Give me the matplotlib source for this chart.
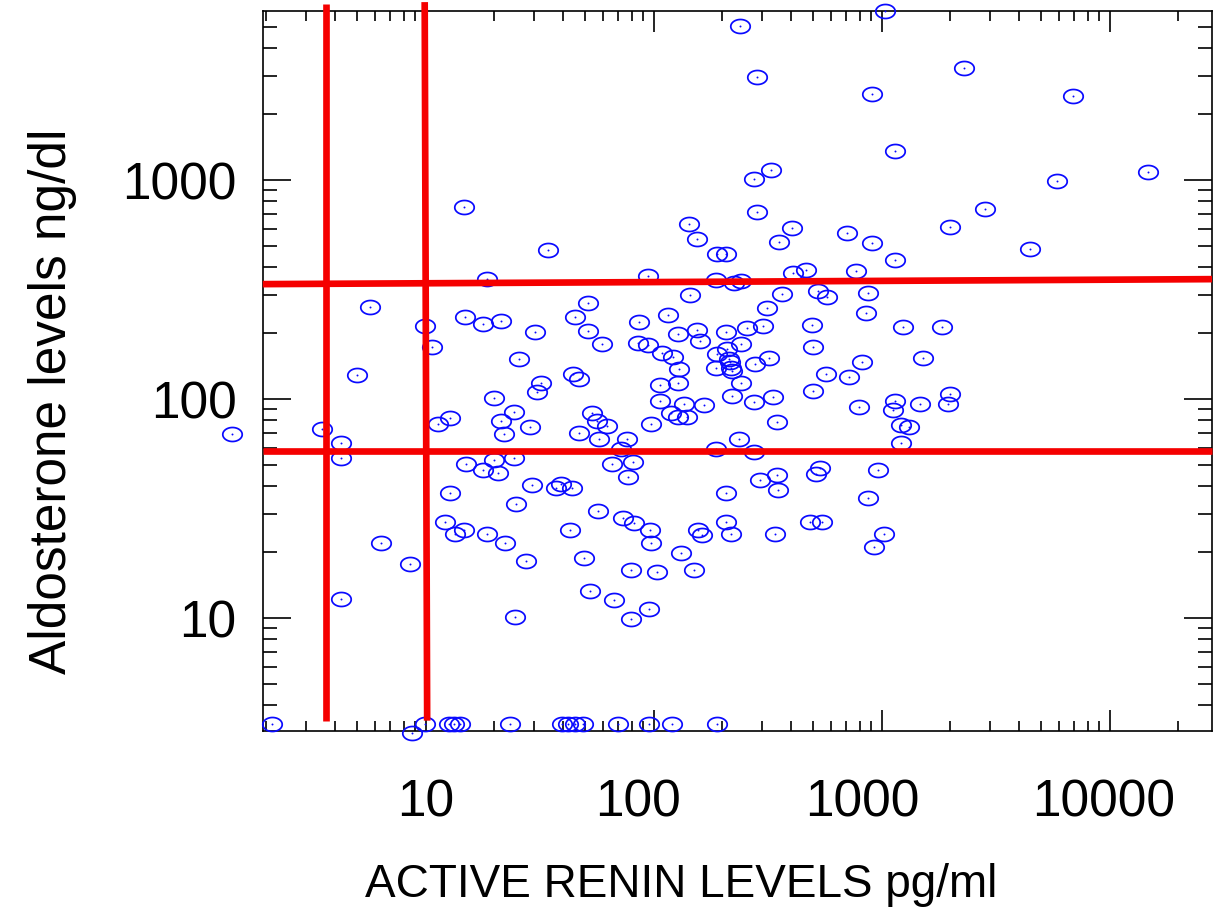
import numpy as np
import matplotlib
matplotlib.use("Agg")
import matplotlib.pyplot as plt
from matplotlib.path import Path
from matplotlib.ticker import LogLocator, NullFormatter
from matplotlib.transforms import ScaledTranslation

# ===== data =====
# active renin (pg/ml) and aldosterone (ng/dl), measured values
renin = [
    1030, 239, 2300, 284, 906, 6900, 1140, 14700, 327, 275,
    5880, 14.7, 284, 2840, 143, 1990, 404, 705, 155, 354,
    906, 4470, 34.4, 190, 207, 1140, 18.6, 94.3, 408, 465,
    770, 188, 225, 241, 144, 366, 526, 576, 872, 51.5,
    5.70, 314, 854, 116, 14.9, 17.8, 21.4, 45.1, 86.3, 9.9,
    30.1, 51.5, 128, 155, 207, 256, 301, 495, 1240, 1840,
    10.7, 59.4, 85.4, 94.3, 160, 241, 500, 109, 122, 25.6,
    129, 190, 210, 213, 216, 218, 221, 188, 278, 320,
    819, 1520, 5.0, 44.2, 47.0, 32.0, 30.8, 107, 128, 241,
    570, 718, 19.9, 107, 220, 333, 500, 1990, 24.4, 12.8,
    11.3, 21.4, 53.6, 56.4, 62.3, 136, 166, 275, 796, 1140,
    1120, 1470, 1950, 119, 128, 140, 97.2, 28.6, 47.0, 347,
    1220, 1320, 1.41, 3.51, 4.25, 4.25, 22.0, 57.6, 76.2, 71.8,
    237, 188, 275, 1220, 15.0, 17.8, 19.9, 20.7, 24.4, 65.6,
    81, 77, 536, 515, 347, 293, 351, 960, 12.8, 29.3,
    37.2, 39.2, 43.8, 207, 872, 24.9, 57.0, 73.3, 81.9, 96,
    97.2, 12.2, 13.4, 14.7, 18.6, 22.3, 42.9, 156, 163, 207,
    218, 340, 485, 547, 1020, 925, 132, 6.37, 8.53, 27.5,
    49.5, 79.6, 103, 150, 52.6, 66.9, 95.3, 79.6, 24.7, 4.25,
]
aldo = [
    5900, 5050, 3250, 2950, 2470, 2420, 1360, 1090, 1110, 1010,
    990, 752, 715, 740, 630, 610, 604, 573, 538, 520,
    515, 484, 479, 460, 460, 431, 353, 365, 376, 388,
    384, 349, 339, 346, 298, 302, 311, 292, 305, 274,
    263, 260, 247, 242, 237, 220, 227, 237, 225, 215,
    202, 204, 198, 207, 202, 211, 215, 218, 213, 213,
    173, 178, 180, 176, 184, 178, 173, 162, 156, 152,
    137, 160, 169, 153, 147, 138, 135, 138, 144, 154,
    147, 154, 129, 130, 123, 118, 108, 116, 118, 118,
    130, 126, 101, 97.8, 103, 102, 109, 105, 87.2, 82,
    77, 79.3, 86.2, 79.3, 75.2, 94.8, 93.8, 96.8, 92, 97.8,
    89, 94.8, 94.8, 86.2, 83, 83, 77, 74.5, 70, 78.6,
    76, 74.5, 69.3, 73, 63, 53.8, 69.3, 65.7, 65.7, 59,
    65.7, 59, 57.3, 63, 50.5, 47.4, 52.7, 46, 53.8, 50.5,
    51.6, 44, 48.4, 45.4, 45, 42.7, 38.4, 47.4, 37.2, 40.5,
    39.2, 40.9, 39.2, 37.2, 35.4, 33.2, 30.8, 28.6, 27.1, 25.2,
    22, 27.4, 24.2, 25.2, 24.2, 22, 25.2, 25.2, 23.9, 27.4,
    24.2, 24.2, 27.4, 27.4, 24.2, 21.1, 19.8, 22, 17.6, 18.2,
    18.8, 16.6, 16.2, 16.6, 13.3, 12.1, 11.0, 9.9, 10.1, 12.2,
]
# aldosterone below detection -> plotted on the floor row
renin_low = [2.12, 8.71, 9.9, 12.6, 13.3, 14.1, 23.4, 39.5, 42.0, 45.0,
             48.8, 70, 95, 120, 189]
aldo_low = [3.3, 3.0, 3.3, 3.3, 3.3, 3.3, 3.3, 3.3, 3.3, 3.3,
            3.3, 3.3, 3.3, 3.3, 3.3]

# cut-off lines (x pairs, y pairs)
renin_cut1_x, renin_cut1_y = [3.64, 3.64], [3.4, 6400]
renin_cut2_x, renin_cut2_y = [9.9, 10.15], [6500, 3.4]
aldo_cut_hi_x, aldo_cut_hi_y = [1.93, 28100], [335, 353]
aldo_cut_lo_x, aldo_cut_lo_y = [1.93, 28100], [57.9, 57.9]

x_ticks = [10, 100, 1000, 10000]
x_ticklabels = ["10", "100", "1000", "10000"]
y_ticks = [10, 100, 1000]
y_ticklabels = ["10", "100", "1000"]

# ===== plotting =====
plt.rcParams["font.family"] = ["Liberation Sans", "DejaVu Sans"]

fig = plt.figure(figsize=(12.13, 9.16), dpi=100)
ax = fig.add_axes([263 / 1213, 185 / 916, 949 / 1213, 720 / 916])
ax.set_xscale("log")
ax.set_yscale("log")
ax.set_xlim(1.934, 28100)
ax.set_ylim(3.05, 5920)

# flat ellipse marker like the original
theta = np.linspace(0, 2 * np.pi, 73)
ellipse = Path(np.column_stack([np.cos(theta), 0.72 * np.sin(theta)]))

all_x = renin + renin_low
all_y = aldo + aldo_low
ax.plot(all_x, all_y, linestyle="none", marker=ellipse, markersize=14,
        markerfacecolor="none", markeredgecolor="#0a0aff",
        markeredgewidth=1.25, clip_on=False, zorder=3)
ax.plot(all_x, all_y, linestyle="none", marker="o", markersize=1.4,
        markeredgewidth=0, color="#0a0aff", clip_on=False, zorder=3)

for lx, ly in [(renin_cut1_x, renin_cut1_y), (renin_cut2_x, renin_cut2_y),
               (aldo_cut_hi_x, aldo_cut_hi_y), (aldo_cut_lo_x, aldo_cut_lo_y)]:
    ax.plot(lx, ly, color="#f50000", lw=4.8, solid_capstyle="butt",
            clip_on=False, zorder=4)

ax.set_xticks(x_ticks)
ax.set_xticklabels(x_ticklabels)
ax.set_yticks(y_ticks)
ax.set_yticklabels(y_ticklabels)
ax.xaxis.set_minor_locator(LogLocator(base=10, subs=np.arange(2, 10), numticks=100))
ax.yaxis.set_minor_locator(LogLocator(base=10, subs=np.arange(2, 10), numticks=100))
ax.xaxis.set_minor_formatter(NullFormatter())
ax.yaxis.set_minor_formatter(NullFormatter())

ax.tick_params(which="both", direction="in", top=True, right=True,
               width=1.2, color="black")
ax.tick_params(axis="x", which="major", length=15, pad=34, labelsize=37)
ax.tick_params(axis="x", which="minor", length=7.5)
ax.tick_params(axis="y", which="major", length=20, pad=19, labelsize=37)
ax.tick_params(axis="y", which="minor", length=10)
for sp in ax.spines.values():
    sp.set_linewidth(1.2)

# the original's x tick labels sit a little left of their ticks
label_shift_px = [0, -16, -19, -6]
for lab, dx in zip(ax.get_xticklabels(), label_shift_px):
    lab.set_transform(lab.get_transform()
                      + ScaledTranslation(dx / 100, 0, fig.dpi_scale_trans))

fig.text(681 / 1213, 1 - 885 / 916, "ACTIVE RENIN LEVELS pg/ml",
         ha="center", va="center", fontsize=33)
fig.text(53 / 1213, 1 - 401 / 916, "Aldosterone levels ng/dl",
         ha="center", va="center", rotation=90, fontsize=37)

fig.savefig("out.png", dpi=100)
plt.close(fig)
